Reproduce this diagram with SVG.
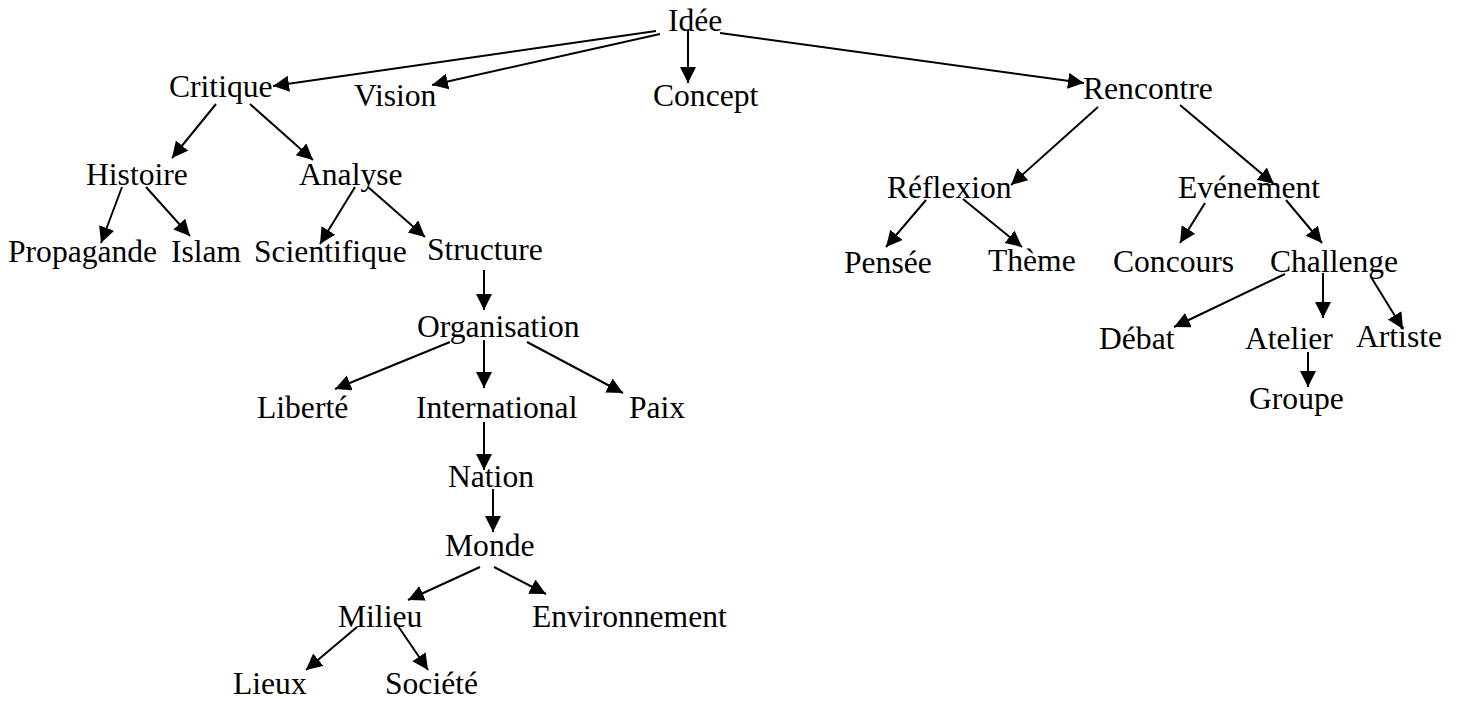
<svg xmlns="http://www.w3.org/2000/svg" width="1460" height="702" viewBox="0 0 1460 702">
  <style>
    .label { font-family: "Liberation Serif", "Times New Roman", serif; font-size: 31.6px; fill: #000; }
    .edge { stroke: #000; stroke-width: 2; fill: none; marker-end: url(#arrow); }
  </style>
  <defs>
    <marker id="arrow" markerUnits="userSpaceOnUse" markerWidth="18" markerHeight="18" refX="16" refY="8" orient="auto">
      <path d="M0,0 L16,8 L0,16 z" fill="#000"/>
    </marker>
  </defs>
  <rect width="1460" height="702" fill="#fff"/>

  <!-- connectors: start point on the parent, end point at the arrow tip -->
  <g id="connectors">
    <line class="edge" x1="656" y1="31" x2="273" y2="86"/>
    <line class="edge" x1="660" y1="34" x2="432" y2="85"/>
    <line class="edge" x1="688" y1="30" x2="688" y2="83"/>
    <line class="edge" x1="720" y1="33" x2="1084" y2="83"/>

    <line class="edge" x1="216" y1="104" x2="172" y2="158"/>
    <line class="edge" x1="250" y1="104" x2="313" y2="160"/>

    <line class="edge" x1="1098" y1="107" x2="1011" y2="185"/>
    <line class="edge" x1="1180" y1="105" x2="1274" y2="184"/>

    <line class="edge" x1="122" y1="187" x2="101" y2="243"/>
    <line class="edge" x1="146" y1="187" x2="190" y2="236"/>
    <line class="edge" x1="355" y1="187" x2="320" y2="244"/>
    <line class="edge" x1="368" y1="187" x2="425" y2="237"/>

    <line class="edge" x1="926" y1="200" x2="886" y2="247"/>
    <line class="edge" x1="963" y1="199" x2="1022" y2="247"/>
    <line class="edge" x1="1205" y1="203" x2="1180" y2="243"/>
    <line class="edge" x1="1286" y1="200" x2="1322" y2="243"/>

    <line class="edge" x1="1285" y1="274" x2="1174" y2="327"/>
    <line class="edge" x1="1323" y1="273" x2="1323" y2="318"/>
    <line class="edge" x1="1371" y1="277" x2="1403" y2="329"/>
    <line class="edge" x1="1308" y1="352" x2="1308" y2="387"/>

    <line class="edge" x1="484" y1="270" x2="484" y2="310"/>
    <line class="edge" x1="450" y1="342" x2="335" y2="389"/>
    <line class="edge" x1="484" y1="340" x2="484" y2="388"/>
    <line class="edge" x1="527" y1="342" x2="623" y2="393"/>
    <line class="edge" x1="484" y1="422" x2="484" y2="470"/>
    <line class="edge" x1="493" y1="489" x2="493" y2="532"/>

    <line class="edge" x1="480" y1="567" x2="408" y2="600"/>
    <line class="edge" x1="494" y1="567" x2="546" y2="594"/>
    <line class="edge" x1="357" y1="627" x2="306" y2="670"/>
    <line class="edge" x1="398" y1="626" x2="428" y2="670"/>
  </g>

  <!-- nodes -->
  <g id="n-idee"><text class="label" x="668" y="31">Idée</text></g>
  <g id="n-critique"><text class="label" x="169" y="97">Critique</text></g>
  <g id="n-vision"><text class="label" x="354" y="106">Vision</text></g>
  <g id="n-concept"><text class="label" x="653" y="106">Concept</text></g>
  <g id="n-rencontre"><text class="label" x="1083" y="99">Rencontre</text></g>

  <g id="n-histoire"><text class="label" x="86" y="185">Histoire</text></g>
  <g id="n-analyse"><text class="label" x="299" y="185">Analyse</text></g>
  <g id="n-reflexion"><text class="label" x="887" y="198">Réflexion</text></g>
  <g id="n-evenement"><text class="label" x="1178" y="198">Evénement</text></g>

  <g id="n-propagande"><text class="label" x="8" y="262">Propagande</text></g>
  <g id="n-islam"><text class="label" x="171" y="262">Islam</text></g>
  <g id="n-scientifique"><text class="label" x="254" y="262">Scientifique</text></g>
  <g id="n-structure"><text class="label" x="427" y="260">Structure</text></g>
  <g id="n-pensee"><text class="label" x="844" y="273">Pensée</text></g>
  <g id="n-theme"><text class="label" x="988" y="271">Thème</text></g>
  <g id="n-concours"><text class="label" x="1113" y="272">Concours</text></g>
  <g id="n-challenge"><text class="label" x="1270" y="272">Challenge</text></g>

  <g id="n-organisation"><text class="label" x="417" y="337">Organisation</text></g>
  <g id="n-debat"><text class="label" x="1099" y="349">Débat</text></g>
  <g id="n-atelier"><text class="label" x="1245" y="349">Atelier</text></g>
  <g id="n-artiste"><text class="label" x="1356" y="347">Artiste</text></g>
  <g id="n-groupe"><text class="label" x="1249" y="409">Groupe</text></g>

  <g id="n-liberte"><text class="label" x="257" y="418">Liberté</text></g>
  <g id="n-international"><text class="label" x="416" y="418">International</text></g>
  <g id="n-paix"><text class="label" x="629" y="418">Paix</text></g>
  <g id="n-nation"><text class="label" x="448" y="487">Nation</text></g>
  <g id="n-monde"><text class="label" x="445" y="556">Monde</text></g>
  <g id="n-milieu"><text class="label" x="338" y="627">Milieu</text></g>
  <g id="n-environnement"><text class="label" x="532" y="627">Environnement</text></g>
  <g id="n-lieux"><text class="label" x="233" y="694">Lieux</text></g>
  <g id="n-societe"><text class="label" x="385" y="694">Société</text></g>
</svg>
